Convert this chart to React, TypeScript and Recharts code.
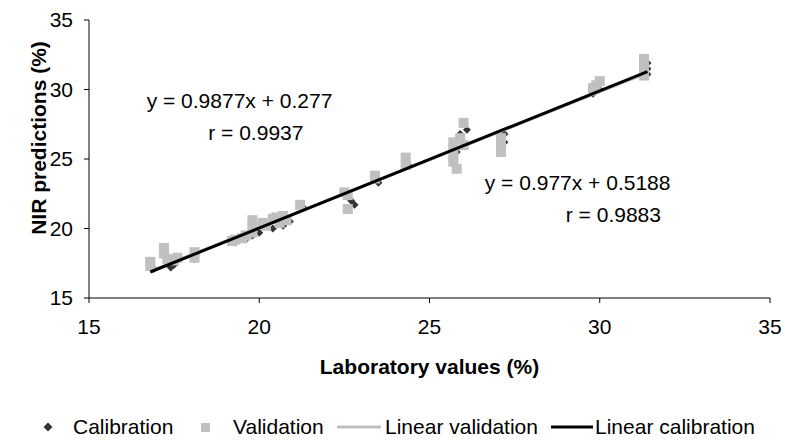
import {
  ComposedChart,
  Legend,
  ReferenceDot,
  Scatter,
  XAxis,
  YAxis,
  Label,
} from "recharts";

// lab value, NIR prediction
const calibration = [
  [16.9, 17.1], [17.4, 17.2], [17.5, 17.4], [18.1, 17.8], [19.3, 19.0],
  [19.6, 19.2], [19.8, 19.5], [20.0, 19.7], [20.4, 20.0], [20.7, 20.2],
  [20.9, 20.5], [21.3, 21.5], [22.7, 22.0], [22.8, 21.7], [23.5, 23.3],
  [24.4, 24.5], [25.8, 25.5], [26.0, 26.2], [26.1, 27.1], [25.9, 26.8],
  [27.2, 26.2], [27.2, 26.8], [29.8, 29.7], [30.0, 30.0], [31.4, 31.1],
  [31.4, 31.5], [31.4, 31.9],
];

const validation = [
  [16.8, 17.6], [16.8, 17.3], [17.2, 18.6], [17.2, 18.2], [17.3, 17.8],
  [17.5, 17.7], [17.6, 17.9], [18.1, 18.3], [18.1, 17.9], [19.2, 19.1],
  [19.3, 19.2], [19.5, 19.3], [19.6, 19.5], [19.8, 20.6], [19.8, 20.1],
  [19.8, 19.7], [20.1, 20.4], [20.2, 20.2], [20.4, 20.7], [20.5, 20.8],
  [20.6, 20.4], [20.7, 20.9], [20.8, 20.6], [21.2, 21.7], [22.5, 22.6],
  [22.6, 22.4], [22.6, 21.4], [23.4, 23.8], [23.4, 23.6], [24.3, 25.1],
  [24.3, 24.6], [25.7, 26.2], [25.7, 25.7], [25.7, 25.2], [25.7, 24.8],
  [25.8, 24.3], [25.9, 26.5], [26.0, 27.6], [26.0, 26.0], [27.1, 26.5],
  [27.1, 26.0], [27.1, 25.5], [29.8, 30.1], [29.9, 30.3], [30.0, 30.6],
  [31.3, 32.2], [31.3, 31.6], [31.3, 31.0],
];

// trend line end points
const linearValidation = [[16.8, 16.93], [31.3, 31.1]];
const linearCalibration = [[16.8, 16.87], [31.4, 31.29]];

const ticks = [15, 20, 25, 30, 35];

const toPts = (arr: number[][]) => arr.map(([x, y]) => ({ x, y }));

const FONT = "'Liberation Sans', Arial, sans-serif";

const Square = (p: any) => (
  <rect x={p.cx - 5} y={p.cy - 5} width={10} height={10} fill="#c0c0c0" />
);
const Diamond = (p: any) => (
  <polygon
    points={`${p.cx},${p.cy - 4} ${p.cx + 4},${p.cy} ${p.cx},${p.cy + 4} ${p.cx - 4},${p.cy}`}
    fill="#333"
  />
);
const Nothing = () => <g />;

const LegendBox = () => {
  const item = { position: "absolute" as const, top: 0, fontSize: 21, lineHeight: "24px" };
  return (
    <div style={{ position: "relative", height: 24, width: 785, fontFamily: FONT, color: "#000" }}>
      <svg style={{ position: "absolute", left: 0, top: 0 }} width={785} height={24}>
        <polygon points="48,7.5 52.5,12 48,16.5 43.5,12" fill="#333" />
        <rect x={201} y={8} width={9} height={9} fill="#c0c0c0" />
        <line x1={337} x2={381} y1={12} y2={12} stroke="#c0c0c0" strokeWidth={3} />
        <line x1={551} x2={593} y1={12} y2={12} stroke="#000" strokeWidth={3} />
      </svg>
      <span style={{ ...item, left: 73 }}>Calibration</span>
      <span style={{ ...item, left: 233 }}>Validation</span>
      <span style={{ ...item, left: 385 }}>Linear validation</span>
      <span style={{ ...item, left: 595 }}>Linear calibration</span>
    </div>
  );
};

const eqStyle = { fontSize: 21, fill: "#000", fontFamily: FONT };

const App = () => {
  return (
    <div style={{ position: "absolute", left: 0, top: 0, width: 785, height: 443, fontFamily: FONT }}>
      <ComposedChart
        width={785}
        height={443}
        margin={{ top: 20, right: 15, left: 0, bottom: 4 }}
      >
        <XAxis
          type="number"
          dataKey="x"
          domain={[15, 35]}
          ticks={ticks}
          stroke="#000"
          tickSize={5}
          tickMargin={16}
          tick={{ fill: "#000", fontSize: 21, fontFamily: FONT }}
          height={117}
        >
          <Label
            value="Laboratory values (%)"
            position="insideTop"
            offset={61}
            style={{ fontWeight: "bold", fontSize: 21, fill: "#000", fontFamily: FONT }}
          />
        </XAxis>
        <YAxis
          type="number"
          dataKey="y"
          domain={[15, 35]}
          ticks={ticks}
          stroke="#000"
          tickSize={5}
          tickMargin={11}
          tick={{ fill: "#000", fontSize: 21, fontFamily: FONT }}
          width={89}
        >
          <Label
            content={() => (
              <text
                x={38}
                y={138}
                transform="rotate(-90 38 138)"
                textAnchor="middle"
                dominantBaseline="central"
                style={{ fontWeight: "bold", fontSize: 21, fill: "#000", fontFamily: FONT }}
              >
                NIR predictions (%)
              </text>
            )}
          />
        </YAxis>
        <Scatter
          name="Calibration"
          data={toPts(calibration)}
          shape={Diamond}
          isAnimationActive={false}
        />
        <Scatter
          name="Validation"
          data={toPts(validation)}
          shape={Square}
          isAnimationActive={false}
        />
        <Scatter
          name="Linear validation"
          data={toPts(linearValidation)}
          line={{ stroke: "#c0c0c0", strokeWidth: 3 }}
          shape={Nothing}
          isAnimationActive={false}
        />
        <Scatter
          name="Linear calibration"
          data={toPts(linearCalibration)}
          line={{ stroke: "#000", strokeWidth: 3 }}
          shape={Nothing}
          isAnimationActive={false}
        />
        <ReferenceDot
          x={19.42}
          y={29.2}
          r={0}
          ifOverflow="visible"
          label={{ value: "y = 0.9877x + 0.277", position: "center", ...eqStyle }}
        />
        <ReferenceDot
          x={19.9}
          y={26.9}
          r={0}
          ifOverflow="visible"
          label={{ value: "r = 0.9937", position: "center", ...eqStyle }}
        />
        <ReferenceDot
          x={29.35}
          y={23.3}
          r={0}
          ifOverflow="visible"
          label={{ value: "y = 0.977x + 0.5188", position: "center", ...eqStyle }}
        />
        <ReferenceDot
          x={30.4}
          y={21.0}
          r={0}
          ifOverflow="visible"
          label={{ value: "r = 0.9883", position: "center", ...eqStyle }}
        />
        <Legend verticalAlign="bottom" height={24} content={() => <LegendBox />} />
      </ComposedChart>
    </div>
  );
};

export default App;
